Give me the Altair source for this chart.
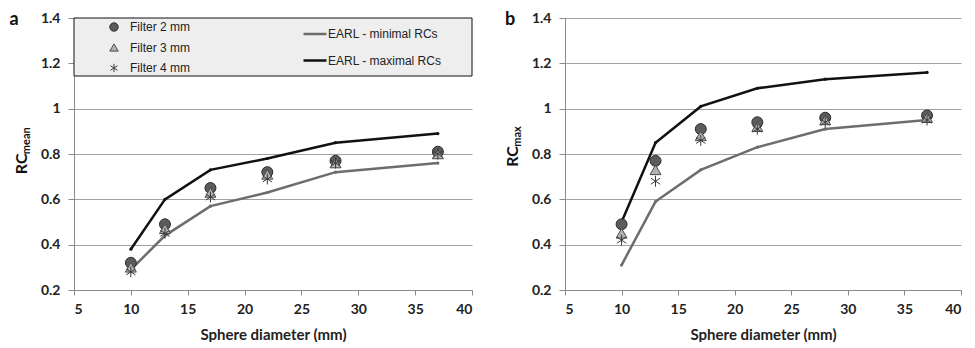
import altair as alt
import pandas as pd

sizes = [10, 13, 17, 22, 28, 37]
filters = ["Filter 2 mm", "Filter 3 mm", "Filter 4 mm"]
curves = ["EARL - minimal RCs", "EARL - maximal RCs"]

a_f2 = [0.32, 0.49, 0.65, 0.72, 0.77, 0.81]
a_f3 = [0.30, 0.47, 0.63, 0.71, 0.76, 0.80]
a_f4 = [0.28, 0.45, 0.61, 0.69, 0.76, 0.80]
a_min = [0.29, 0.44, 0.57, 0.63, 0.72, 0.76]
a_max = [0.38, 0.60, 0.73, 0.78, 0.85, 0.89]

b_f2 = [0.49, 0.77, 0.91, 0.94, 0.96, 0.97]
b_f3 = [0.45, 0.73, 0.88, 0.92, 0.95, 0.96]
b_f4 = [0.42, 0.68, 0.86, 0.91, 0.94, 0.95]
b_min = [0.31, 0.59, 0.73, 0.83, 0.91, 0.95]
b_max = [0.50, 0.85, 1.01, 1.09, 1.13, 1.16]

x_ticks = [5, 10, 15, 20, 25, 30, 35, 40]
y_ticks = [0.2, 0.4, 0.6, 0.8, 1.0, 1.2, 1.4]

ASTER = "M0,-1L0,1M-0.85,-0.55L0.85,0.55M-0.85,0.55L0.85,-0.55"

W_A, W_B, H = 398, 396, 272
BOLD = "Lato"


def frames(f2, f3, f4, lo, hi):
    pts = []
    for name, vals in zip(filters, [f2, f3, f4]):
        for s, v in zip(sizes, vals):
            pts.append({"d": s, "rc": v, "series": name})
    lines = []
    for name, vals in zip(curves, [lo, hi]):
        for s, v in zip(sizes, vals):
            lines.append({"d": s, "rc": v, "curve": name})
    return pd.DataFrame(pts), pd.DataFrame(lines)


def panel(f2, f3, f4, lo, hi, width, label, label_x, sub, rc_frac, with_legend):
    pts, lines = frames(f2, f3, f4, lo, hi)
    xenc = alt.X("d:Q", scale=alt.Scale(domain=[5, 40], nice=False),
                 axis=alt.Axis(values=x_ticks, title="Sphere diameter (mm)", grid=False,
                               tickSize=5, labelPadding=7, titlePadding=11))
    yenc = alt.Y("rc:Q", scale=alt.Scale(domain=[0.2, 1.4], nice=False),
                 axis=alt.Axis(values=y_ticks, title=None, grid=True, format="~g",
                               tickSize=6, labelPadding=8))

    if with_legend:
        leg1 = alt.Legend(orient="none", legendX=34, legendY=3, title=None, padding=0,
                          symbolSize=70, rowPadding=7.5, labelOffset=10,
                          labelFont="Liberation Sans", labelFontSize=12, labelColor="#222",
                          labelFontWeight="normal", symbolStrokeWidth=1)
        leg2 = alt.Legend(orient="none", legendX=228, legendY=3, title=None, padding=0,
                          symbolType="stroke", symbolSize=529, symbolStrokeWidth=2.5,
                          rowPadding=7.5, labelOffset=0,
                          labelFont="Liberation Sans", labelFontSize=12, labelColor="#222",
                          labelFontWeight="normal")
    else:
        leg1 = None
        leg2 = None

    line_layer = alt.Chart(lines).mark_line(
        strokeWidth=2.5, point=alt.OverlayMarkDef(filled=True, size=10)
    ).encode(
        x=xenc, y=yenc,
        color=alt.Color("curve:N", scale=alt.Scale(domain=curves, range=["#6d6d6d", "#111111"]),
                        legend=leg2),
    )
    pt_layer = alt.Chart(pts).mark_point(size=120, strokeWidth=1, opacity=1).encode(
        x=xenc, y=yenc,
        shape=alt.Shape("series:N", scale=alt.Scale(domain=filters, range=["circle", "triangle-up", ASTER]),
                        legend=leg1),
        fill=alt.Fill("series:N", scale=alt.Scale(domain=filters, range=["#5c5c5c", "#b3b3b3", "transparent"]),
                      legend=leg1),
        stroke=alt.Stroke("series:N", scale=alt.Scale(domain=filters, range=["#2a2a2a", "#4a4a4a", "#3a3a3a"]),
                          legend=leg1),
    )

    rc_y = H * rc_frac
    texts = []
    texts.append(alt.Chart().mark_text(text=label, fontSize=18, fontWeight="bold", font=BOLD,
                                       align="center", baseline="alphabetic", color="#111").encode(
        x=alt.value(label_x), y=alt.value(7)))
    texts.append(alt.Chart().mark_text(text="RC", fontSize=16, fontWeight="bold", font=BOLD, angle=270,
                                       align="left", baseline="alphabetic", color="#111").encode(
        x=alt.value(-47), y=alt.value(rc_y)))
    texts.append(alt.Chart().mark_text(text=sub, fontSize=11, fontWeight="bold", font=BOLD, angle=270,
                                       align="left", baseline="alphabetic", color="#111").encode(
        x=alt.value(-44), y=alt.value(rc_y - 20)))

    layers = []
    if with_legend:
        box = alt.Chart().mark_rect(fill="#eeeeee", stroke="#111", strokeWidth=1).encode(
            x=alt.value(0), x2=alt.value(width), y=alt.value(0), y2=alt.value(58))
        layers.append(box)
    layers += [line_layer, pt_layer] + texts
    return alt.layer(*layers).resolve_scale(
        color="independent", fill="independent", stroke="independent", shape="independent"
    ).properties(width=width, height=H)


pa = panel(a_f2, a_f3, a_f4, a_min, a_max, W_A, "a", -60, "mean", 0.574, True)
pb = panel(b_f2, b_f3, b_f4, b_min, b_max, W_B, "b", -55, "max", 0.547, False)

chart = alt.hconcat(pa, pb, spacing=31).resolve_legend(
    color="independent", fill="independent", stroke="independent", shape="independent"
).configure_view(stroke=None).configure_axis(
    labelFont=BOLD, labelFontSize=14, labelFontWeight="bold", labelColor="#222",
    titleFont=BOLD, titleFontSize=15, titleFontWeight="bold", titleColor="#222",
    domainColor="#8a8a8a", tickColor="#8a8a8a", gridColor="#a0a0a0", gridWidth=1,
).properties(background="white", padding={"left": 1, "top": 3, "right": 5, "bottom": 0})

chart.save("out.html", embed_options={"renderer": "svg", "actions": False})
